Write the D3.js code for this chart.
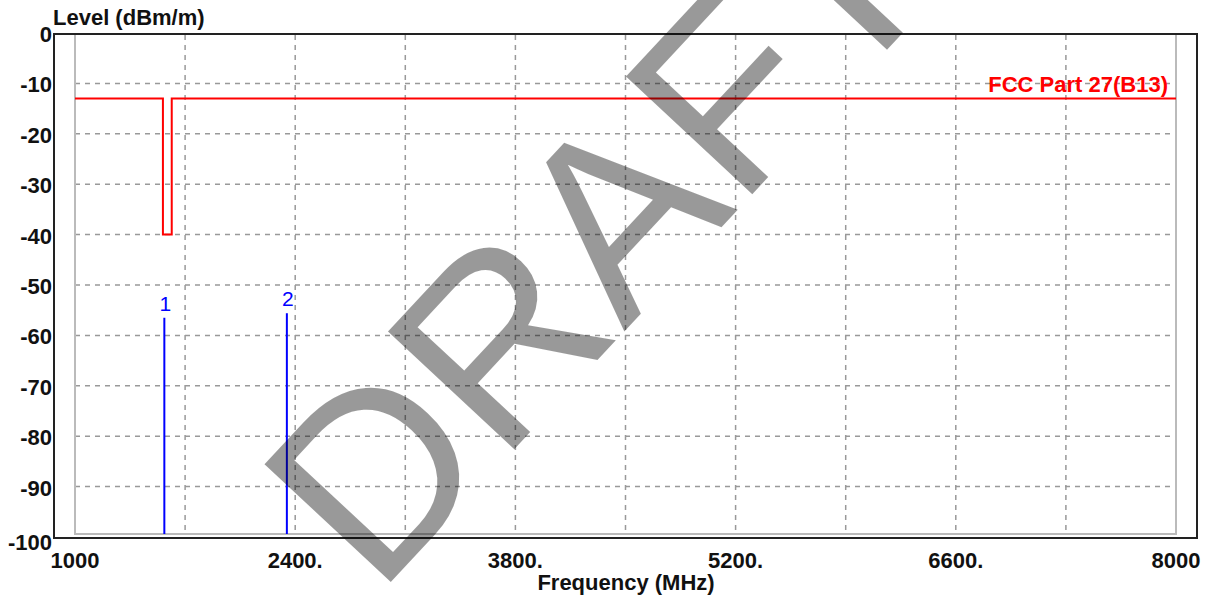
<!DOCTYPE html>
<html lang="en">
<head>
    <meta charset="UTF-8">
    <script src="https://d3js.org/d3.v7.min.js"></script>
    <title>Level vs Frequency</title>
    <style>
        body { margin: 0; background: #fff; }
        text { font-family: "Liberation Sans", Arial, sans-serif; }
    </style>
</head>
<body>
    <svg id="graph" width="1208" height="607"></svg>
</body>
<script>
    // limit line (FCC Part 27, B13) with the notch near GPS
    const limitFreq = [1000, 1559, 1559, 1615, 1615, 8000];
    const limitLevel = [-13, -13, -40, -40, -13, -13];
    const limitName = "FCC Part 27(B13)";

    // measured peaks
    const markerId = ["1", "2"];
    const markerFreq = [1568, 2347];
    const markerLevel = [-56.5, -55.6];

    const xGrid = [1000, 1700, 2400, 3100, 3800, 4500, 5200, 5900, 6600, 7300, 8000];
    const xLabelValues = [1000, 2400, 3800, 5200, 6600, 8000];
    const xLabelText = ["1000", "2400.", "3800.", "5200.", "6600.", "8000"];
    const yGrid = [0, -10, -20, -30, -40, -50, -60, -70, -80, -90, -100];

    const svg = d3.select("#graph");
    svg.append("rect").attr("width", 1208).attr("height", 607).attr("fill", "#fff");

    const x = d3.scaleLinear().domain([1000, 8000]).range([75, 1176]);
    const y = d3.scaleLinear().domain([-100, 0]).range([537, 33]);

    const grid = svg.append("g");
    // dashed grid
    grid.selectAll("line.vg").data(xGrid.slice(1, -1)).join("line")
        .attr("class", "vg")
        .attr("x1", d => x(d)).attr("x2", d => x(d))
        .attr("y1", y(0) + 2).attr("y2", y(-100) - 3)
        .attr("stroke", "#999").attr("stroke-width", 1.5).attr("stroke-dasharray", "5,5");
    grid.selectAll("line.hg").data(yGrid.slice(1, -1)).join("line")
        .attr("class", "hg")
        .attr("x1", x(1000)).attr("x2", x(8000))
        .attr("y1", d => y(d)).attr("y2", d => y(d))
        .attr("stroke", "#999").attr("stroke-width", 1.5).attr("stroke-dasharray", "5,5");

    // inner solid borders
    grid.append("path")
        .attr("d", `M${x(1000)},${y(0)}V${y(-100) - 3}H${x(8000)}V${y(0)}`)
        .attr("fill", "none").attr("stroke", "#bbb").attr("stroke-width", 2);

    // outer frame
    svg.append("rect")
        .attr("x", 54).attr("y", y(0) + 1)
        .attr("width", 1143).attr("height", y(-100) - y(0))
        .attr("fill", "none").attr("stroke", "#222").attr("stroke-width", 2);

    // limit line
    const limit = limitFreq.map((f, i) => [f, limitLevel[i]]);
    svg.append("path")
        .datum(limit)
        .attr("d", d3.line().x(d => x(d[0])).y(d => y(d[1])))
        .attr("fill", "none").attr("stroke", "#ff0000").attr("stroke-width", 2);
    svg.append("text")
        .attr("x", x(8000) - 8).attr("y", y(-13) - 7)
        .attr("text-anchor", "end")
        .attr("font-size", 22).attr("font-weight", "bold")
        .attr("fill", "#ff0000")
        .text(limitName);

    // markers
    const markers = markerId.map((id, i) => ({ id: id, f: markerFreq[i], v: markerLevel[i] }));
    svg.selectAll("line.marker").data(markers).join("line")
        .attr("class", "marker")
        .attr("x1", d => x(d.f)).attr("x2", d => x(d.f))
        .attr("y1", y(-100) - 3).attr("y2", d => y(d.v))
        .attr("stroke", "#0000ff").attr("stroke-width", 2);
    svg.selectAll("text.marker").data(markers).join("text")
        .attr("class", "marker")
        .attr("x", d => x(d.f) + 1).attr("y", d => y(d.v) - 7)
        .attr("text-anchor", "middle")
        .attr("font-size", 21)
        .attr("fill", "#0000ff")
        .text(d => d.id);

    // axis labels
    svg.selectAll("text.xl").data(xLabelValues).join("text")
        .attr("class", "xl")
        .attr("x", d => x(d)).attr("y", 568)
        .attr("text-anchor", "middle")
        .attr("font-size", 22).attr("font-weight", "bold").attr("fill", "#111")
        .text((d, i) => xLabelText[i]);
    svg.selectAll("text.yl").data(yGrid).join("text")
        .attr("class", "yl")
        .attr("x", 52).attr("y", d => y(d) + 9 + (d === -100 ? 4 : 0))
        .attr("text-anchor", "end")
        .attr("font-size", 22).attr("font-weight", "bold").attr("fill", "#111")
        .text(d => d);

    svg.append("text")
        .attr("x", 53).attr("y", 25)
        .attr("font-size", 22).attr("font-weight", "bold").attr("fill", "#111")
        .text("Level (dBm/m)");
    svg.append("text")
        .attr("x", 626).attr("y", 590)
        .attr("text-anchor", "middle")
        .attr("font-size", 22).attr("font-weight", "bold").attr("fill", "#111")
        .text("Frequency (MHz)");

    // watermark
    svg.append("text")
        .attr("transform", "translate(662,291) rotate(-47)")
        .attr("text-anchor", "middle")
        .attr("font-size", 251)
        .attr("fill", "#000").attr("fill-opacity", 0.4)
        .style("pointer-events", "none")
        .text("DRAFT");
</script>
</html>
